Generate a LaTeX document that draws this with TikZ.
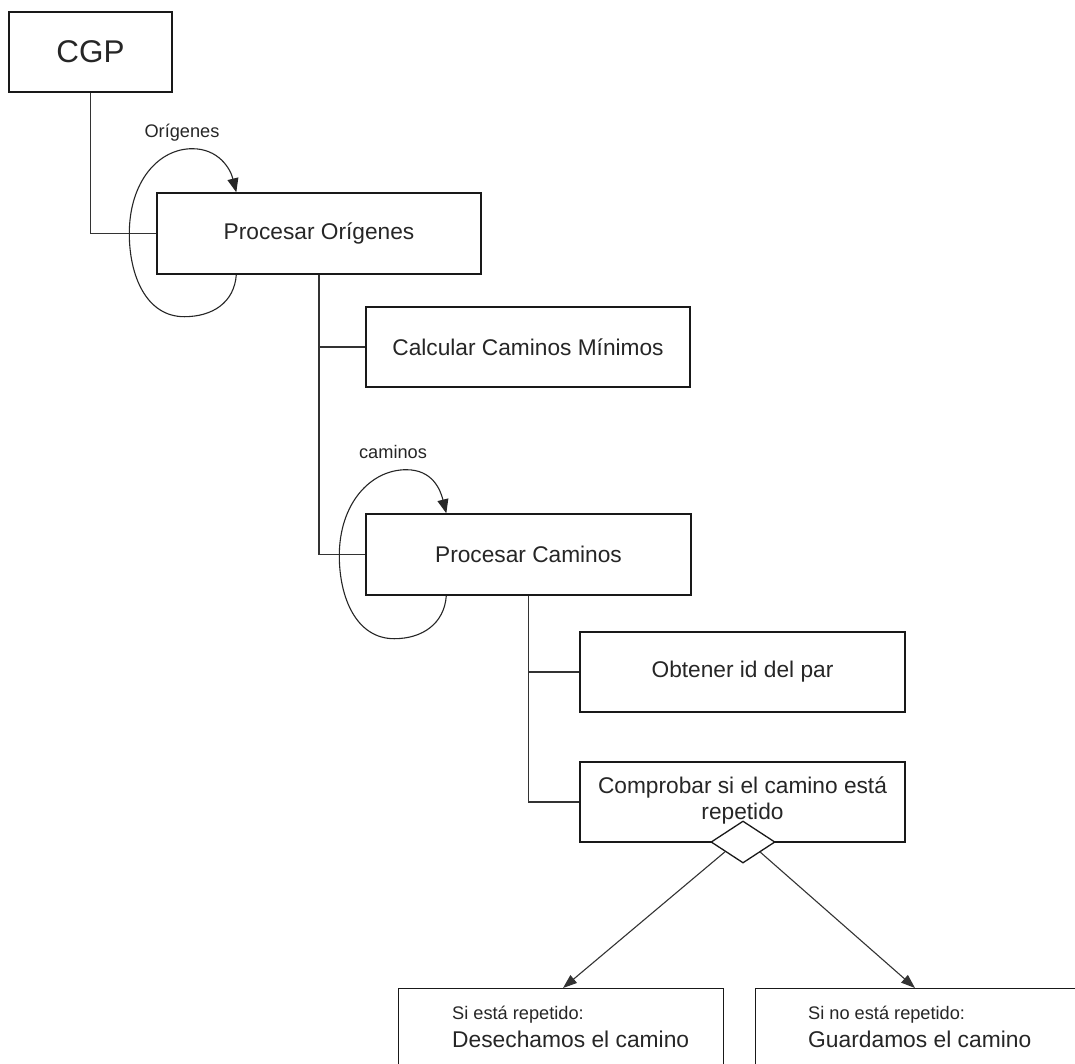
\documentclass[tikz,border=0pt]{standalone}
\usepackage{fontspec}
\setmainfont{Liberation Sans}
\usetikzlibrary{arrows.meta,calc,shapes.geometric}
\tikzset{
  box/.style={draw=black!90, line width=1.4pt, rectangle, inner sep=0pt, align=center,
    font=\fontsize{22.7}{26}\selectfont, text=black!85},
  conn/.style={draw=black!80, line width=1.3pt},
  loopline/.style={draw=black!85, line width=1.1pt, -{Triangle[length=14pt,width=11pt]}},
  arr/.style={draw=black!80, line width=1.1pt, -{Triangle[length=14pt,width=10pt]}},
  lbl/.style={font=\fontsize{18.2}{21}\selectfont, inner sep=0pt, text=black!85},
  txt/.style={inner sep=0pt, text=black!85},
  dec/.style={draw=black!90, line width=1.3pt, diamond, aspect=1.55, inner sep=0pt, minimum width=64pt, minimum height=42pt, fill=white}
}
\begin{document}
\begin{tikzpicture}[x=1pt, y=-1pt]
\clip (0,0) rectangle (1075,1063);
\fill[white] (0,0) rectangle (1075,1063);

% boxes
\node[box, minimum width=163pt, minimum height=80pt, font=\fontsize{31.4}{34}\selectfont] (cgp) at (90.5,52) {CGP};
\node[box, minimum width=324pt, minimum height=81pt] (po) at (319,233.5) {Procesar Orígenes};
\node[box, minimum width=324pt, minimum height=80pt] (ccm) at (528,347) {Calcular Caminos Mínimos};
\node[box, minimum width=325pt, minimum height=81pt] (pc) at (528.5,554.5) {Procesar Caminos};
\node[box, minimum width=325pt, minimum height=80pt] (oi) at (742.5,672) {Obtener id del par};
\node[box, minimum width=325pt, minimum height=80pt] (cr) at (742.5,802) {};
\node[txt, font=\fontsize{22.7}{26}\selectfont, align=center, anchor=center] (crt) at (742.5,800) {Comprobar si el camino está\\repetido};
\node[dec] (dia) at (743,842) {};

\node[box, minimum width=325pt, minimum height=100pt, anchor=north west] (lb) at (398,988) {};
\node[box, minimum width=360pt, minimum height=100pt, anchor=north west] (rb) at (755,988) {};
\node[txt, lbl, anchor=base west] (lb1) at (452,1019) {Si está repetido:};
\node[txt, font=\fontsize{22.8}{26}\selectfont, anchor=base west] (lb2) at (452,1047) {Desechamos el camino};
\node[txt, lbl, anchor=base west] (rb1) at (808,1019) {Si no está repetido:};
\node[txt, font=\fontsize{22.8}{26}\selectfont, anchor=base west] (rb2) at (808,1047) {Guardamos el camino};

% labels
\node[lbl, anchor=base] (lo) at (182,137.5) {Orígenes};
\node[lbl, anchor=base] (lc) at (393,458) {caminos};

% tree connectors
\draw[conn] (cgp.south) |- (po.west);
\draw[conn] (po.south) |- (pc.west);
\draw[conn] (po.south |- ccm.west) -- (ccm.west);
\draw[conn] (pc.south) |- (cr.west);
\draw[conn] (pc.south |- oi.west) -- (oi.west);

% self loops
\draw[loopline] ($(po.south west)+(80,0)$)
  .. controls +(-2,28) and +(28,0) .. ($(po.south west)+(28,42)$)
  .. controls +(-38,0) and +(0,42) .. ($(po.south west)+(-27,-41)$)
  .. controls +(0,-52) and +(-34,0) .. ($(po.south west)+(36,-126)$)
  .. controls +(26,0) and +(-6,-24) .. ($(po.north west)+(80,0)$);
\draw[loopline] ($(pc.south west)+(81,0)$)
  .. controls +(-2,28) and +(28,0) .. ($(pc.south west)+(29,43)$)
  .. controls +(-38,0) and +(0,42) .. ($(pc.south west)+(-26,-40)$)
  .. controls +(0,-52) and +(-36,0) .. ($(pc.south west)+(41,-126)$)
  .. controls +(26,0) and +(-6,-24) .. ($(pc.north west)+(81,0)$);

% decision arrows
\coordinate (dl) at ($(dia.west)!0.45!(dia.south)$);
\coordinate (dr) at ($(dia.east)!0.47!(dia.south)$);
\draw[arr] (dl) -- ($(lb.north west)+(165,0)$);
\draw[arr] (dr) -- ($(rb.north west)+(160,0)$);
\end{tikzpicture}
\end{document}
